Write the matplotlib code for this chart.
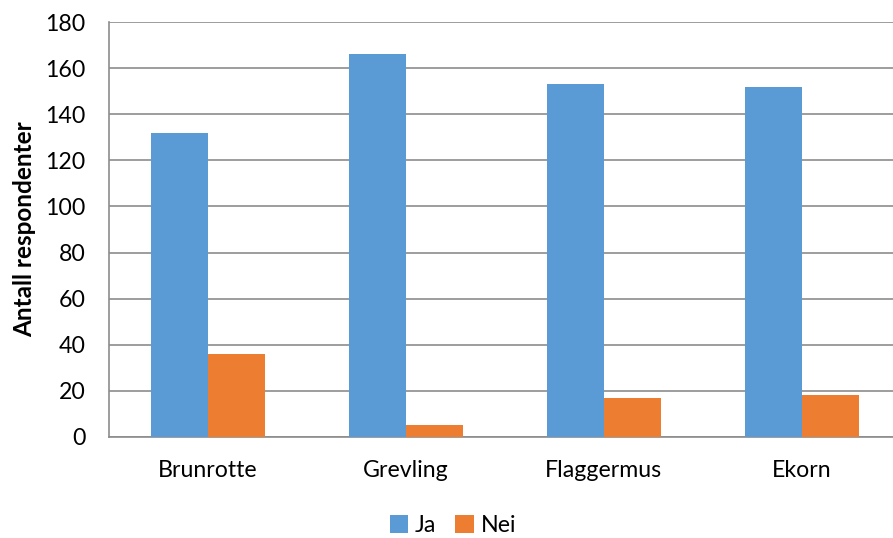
import matplotlib.pyplot as plt
import numpy as np

plt.rcParams['font.family'] = ['Lato', 'DejaVu Sans']

arter = ['Brunrotte', 'Grevling', 'Flaggermus', 'Ekorn']
ja = [132, 166, 153, 152]
nei = [36, 5, 17, 18]

fig = plt.figure(figsize=(8.93, 5.38), dpi=100)
ax = fig.add_axes([0.122, 0.188, 0.878, 0.771])

x = np.arange(len(arter))
w = 0.288
ax.bar(x - w / 2, ja, w, color='#5B9BD5', label='Ja', zorder=3)
ax.bar(x + w / 2, nei, w, color='#ED7D31', label='Nei', zorder=3)

ax.set_xlim(-0.5, 3.46)
ax.set_ylim(0, 180)
ax.set_yticks(range(0, 181, 20))
ax.set_xticks(x)
ax.set_xticklabels(arter)
ax.tick_params(axis='both', length=0, labelsize=16.7)
ax.tick_params(axis='x', pad=17)
ax.tick_params(axis='y', pad=17)
ax.grid(axis='y', color='#8c8c8c', linewidth=1.2, zorder=0)

for s in ['top', 'right']:
    ax.spines[s].set_visible(False)
for s in ['left', 'bottom']:
    ax.spines[s].set_color('#8c8c8c')
    ax.spines[s].set_linewidth(1.2)

ax.set_ylabel('Antall respondenter', fontsize=17.5, fontweight='bold', labelpad=6)

fig.legend(loc='lower center', bbox_to_anchor=(0.507, -0.035), ncol=2, frameon=False,
           fontsize=16.7, handlelength=0.8, handleheight=0.8, handletextpad=0.3,
           columnspacing=0.8)

fig.savefig('out.png', dpi=100)
